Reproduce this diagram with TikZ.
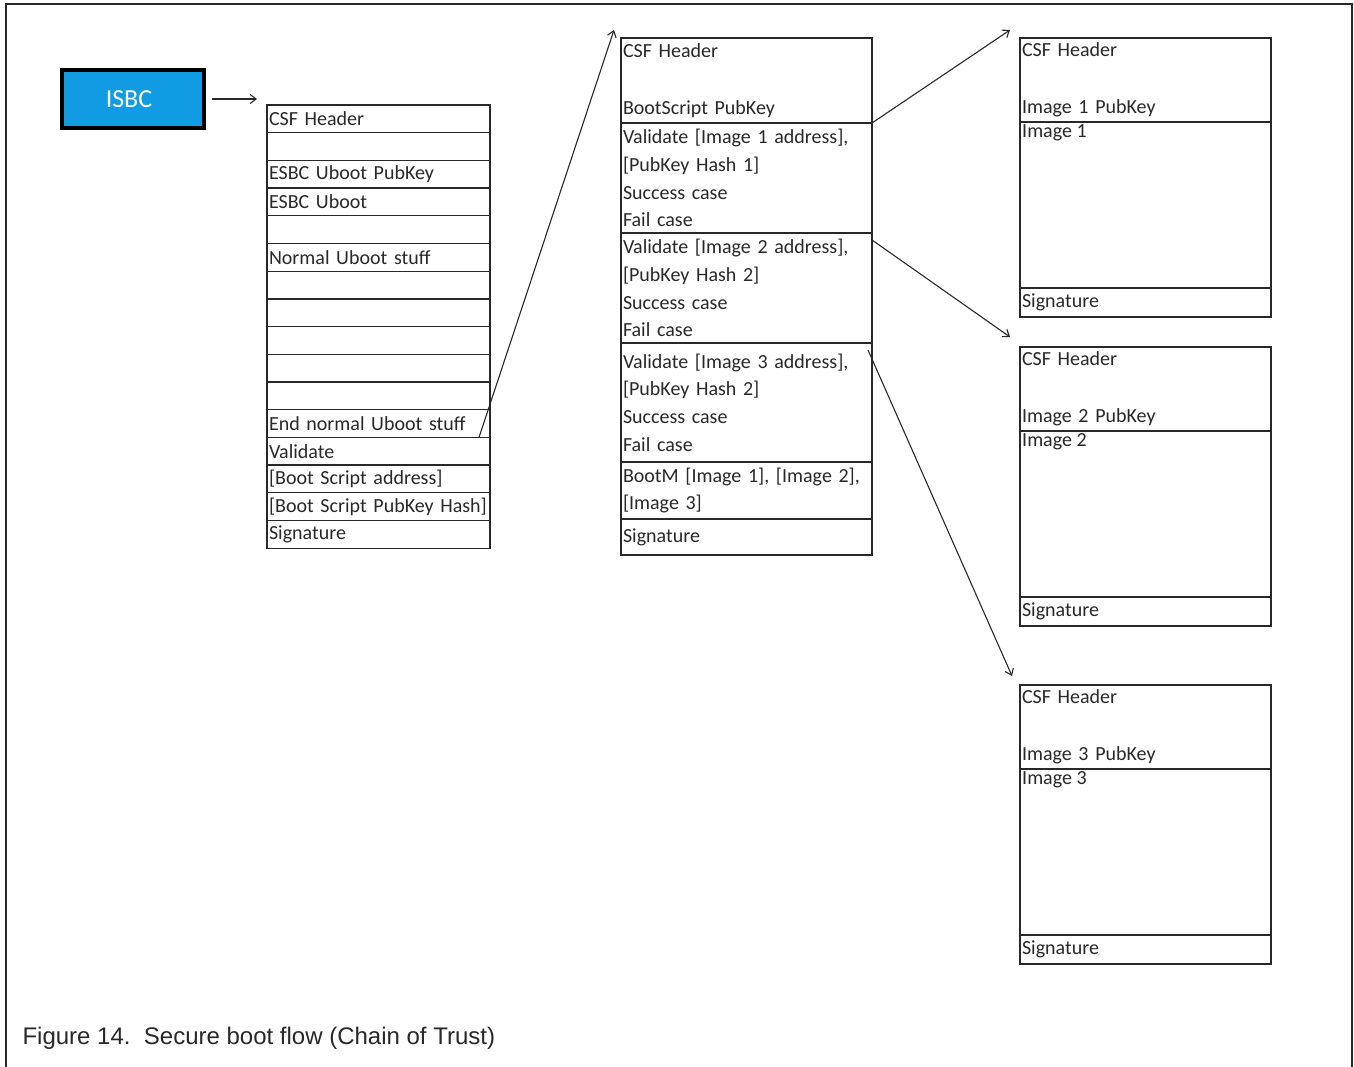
\documentclass[tikz,border=0pt]{standalone}
\usepackage{fontspec}
\usetikzlibrary{arrows.meta}
\setmainfont{Carlito}
\newfontfamily\capfont{Liberation Sans}
\definecolor{isbcblue}{RGB}{16,155,226}
\definecolor{ink}{RGB}{40,40,40}
\tikzset{
  cell/.style={draw=ink, line width=1.3pt, outer sep=0pt, inner xsep=2pt, inner ysep=0pt,
    anchor=north west, align=left, text=ink, font=\fontsize{20}{27.7}\selectfont},
  lbl/.style={anchor=north west, inner sep=2pt, text=ink, font=\fontsize{20}{27.7}\selectfont},
  link/.style={-{Straight Barb[length=6pt,width=9pt]}, draw=ink, line width=1.1pt},
}
\begin{document}
\begin{tikzpicture}[x=1pt,y=-1pt]
    \useasboundingbox (0,0) rectangle (1354,1067);
    \draw[ink, line width=2pt] (6,1067) -- (6,4) -- (1352,4) -- (1352,1067);
    \node[draw=black, line width=4pt, fill=isbcblue, minimum width=142, minimum height=58,
      text=white, font=\fontsize{26}{30}\selectfont] (isbc) at (133,99) {\hspace{-8pt}ISBC};
    % uboot image
    \def\h{27.7}
    \foreach \txt [count=\i] in {CSF Header,{},ESBC Uboot PubKey,ESBC Uboot,{},Normal Uboot stuff,{},{},{},{},{},
      End normal Uboot stuff,Validate,{[Boot Script address]},{[Boot Script PubKey Hash]},Signature}
      \node[cell, text width=219, minimum height=\h] (u\i) at (267,{105+(\i-1)*\h}) {\txt};
    % boot script
    \node[cell, text width=247, minimum height=85] (m1) at (621,38) {CSF Header\\[29pt]BootScript PubKey};
    \node[cell, text width=247, minimum height=110] (m2) at (m1.south west)
      {Validate [Image 1 address],\\{}[PubKey Hash 1]\\Success case\\Fail case};
    \node[cell, text width=247, minimum height=110] (m3) at (m2.south west)
      {Validate [Image 2 address],\\{}[PubKey Hash 2]\\Success case\\Fail case};
    \node[cell, text width=247, minimum height=119] (m4) at (m3.south west)
      {Validate [Image 3 address],\\{}[PubKey Hash 2]\\Success case\\Fail case};
    \node[cell, text width=247, minimum height=57] (m5) at (m4.south west) {BootM [Image 1], [Image 2],\\{}[Image 3]};
    \node[cell, text width=247, minimum height=36] (m6) at (m5.south west) {Signature};
    % images 1-3
    \foreach \k/\y in {1/38,2/347,3/685}{
      \node[cell, text width=247, minimum height=84] (top\k) at (1020,\y) {CSF Header\\[29pt]Image \k\ PubKey};
      \node[cell, minimum width=251, minimum height=166, label={[lbl]north west:Image \k}] (body\k) at (top\k.south west) {};
      \node[cell, text width=247, minimum height=29] (sig\k) at (body\k.south west) {Signature};
    }
    \draw[link] ([xshift=6pt]isbc.east) -- ([shift={(-10pt,6pt)}]u1.north west);
    \draw[link] ([xshift=-11pt]u12.south east) -- ([shift={(-7pt,8pt)}]m1.north west);
    \draw[link] (m1.south east) -- ([shift={(-10pt,8pt)}]top1.north west);
    \draw[link] ([yshift=-7pt]m3.north east) -- ([shift={(-10pt,-20pt)}]sig1.south west);
    \draw[link] ([shift={(-4pt,-7pt)}]m4.north east) -- ([shift={(-8pt,9pt)}]top3.north west);
    \node[anchor=west, text=ink, font=\capfont\fontsize{24}{28}\selectfont] (caption) at (19,1038)
      {Figure 14.\ \ Secure boot flow (Chain of Trust)};
\end{tikzpicture}
\end{document}
